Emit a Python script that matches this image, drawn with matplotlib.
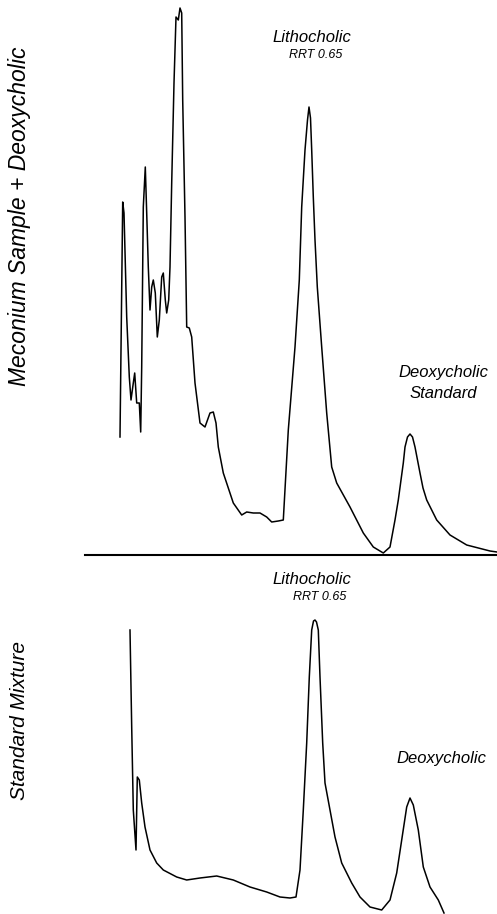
import numpy as np
import matplotlib.pyplot as plt

# Cromatograma superior: muestra de meconio + desoxicolico (posicion, respuesta)
t_muestra = [120, 122.7, 124, 126.7, 129.3, 131, 133.3, 134.7, 136.7, 139.3, 140.7, 141.7,
             143.3, 145.3, 146.7, 148.3, 150, 151.7, 153.3, 155.3, 157.3, 159.3, 161.7, 163.3,
             165.3, 166.7, 168.7, 170, 171.7, 174, 176, 178.3, 180, 181.7, 182.7, 185, 186.7,
             189.3, 191.7, 195, 200, 205, 210, 213.3, 216, 218.3, 223.3, 233.3, 241.7, 246.7,
             253.3, 260, 266.7, 271.7, 278.3, 283.3, 288.3, 295, 299.3, 301.7, 305, 307.5,
             309, 310.5, 311.7, 313.3, 315, 317.3, 321.7, 326.7, 331.7, 336.7, 350, 363.3,
             373.3, 383.3, 390, 395, 398.3, 401, 403.3, 405, 407.5, 410, 412.5, 415, 417.5,
             420, 423, 426.7, 436.7, 450, 466.7, 490, 497]
y_muestra = [118, 353, 342, 238, 178, 155, 172, 182, 152, 152, 123, 188,
             348, 388, 342, 288, 245, 268, 275, 262, 218, 235, 278, 282,
             255, 242, 255, 288, 372, 472, 538, 535, 547, 542, 455, 338, 228,
             227, 218, 172, 132, 128, 142, 143, 132, 108, 82, 52, 40, 43,
             42, 42, 38, 33, 34, 35, 125, 208, 275, 348, 405, 435,
             448, 437, 405, 358, 315, 268, 208, 142, 88, 72, 48, 22,
             8, 2, 8, 35, 55, 75, 92, 108, 118, 121, 118, 108, 95,
             82, 67, 55, 35, 20, 10, 4, 3]

# Cromatograma inferior: mezcla estandar
t_estandar = [130, 131.7, 133.3, 136, 137.3, 139.3, 141.7, 145, 150, 156.7, 163.3, 176.7,
              186.7, 200, 216.7, 233.3, 250, 266.7, 280, 290, 296, 300, 303.3, 306.7,
              309.3, 311.7, 313.5, 315, 316.5, 318.3, 320, 322.7, 325, 330, 335, 341.7,
              351.7, 360, 370, 381.7, 390, 396.7, 401.7, 406.7, 410, 413.3, 418.3, 423.3,
              430, 438.3, 444]
y_estandar = [284, 187, 104, 64, 137, 134, 111, 87, 64, 51, 44, 37,
              34, 36, 38, 34, 27, 22, 17, 16, 17, 44, 104, 171,
              237, 284, 293, 294, 292, 284, 237, 171, 131, 104, 77, 51,
              31, 17, 7, 4, 14, 41, 74, 107, 116, 109, 84, 47,
              27, 14, 1]

fig = plt.figure(figsize=(4.97, 9.14), dpi=100)

ax1 = fig.add_axes([0, 1 - 560 / 914, 1, 560 / 914])
ax1.plot(t_muestra, y_muestra, color='black', linewidth=1.1)
ax1.plot([85, 497], [0, 0], color='black', linewidth=1.5)
ax1.set_xlim(0, 497)
ax1.set_ylim(-5, 555)
ax1.axis('off')

ax2 = fig.add_axes([0, 0, 1, 314 / 914])
ax2.plot(t_estandar, y_estandar, color='black', linewidth=1.1)
ax2.set_xlim(0, 497)
ax2.set_ylim(0, 314)
ax2.axis('off')

fuente = 'Liberation Sans'
ax1.text(312, 518, "Lithocholic", ha='center', va='center', style='italic', fontsize=12, family=fuente)
ax1.text(316, 500, "RRT 0.65", ha='center', va='center', style='italic', fontsize=9, family=fuente)
ax1.text(443, 183, "Deoxycholic", ha='center', va='center', style='italic', fontsize=12, family=fuente)
ax1.text(443, 162, "Standard", ha='center', va='center', style='italic', fontsize=12, family=fuente)
ax1.text(20, 339, "Meconium Sample + Deoxycholic", ha='center', va='center', rotation=90,
         style='italic', fontsize=16.5, family=fuente)

ax2.text(312, 334, "Lithocholic", ha='center', va='center', style='italic', fontsize=12, family=fuente)
ax2.text(320, 317, "RRT 0.65", ha='center', va='center', style='italic', fontsize=9, family=fuente)
ax2.text(441, 156, "Deoxycholic", ha='center', va='center', style='italic', fontsize=12, family=fuente)
ax2.text(20, 194, "Standard Mixture", ha='center', va='center', rotation=90,
         style='italic', fontsize=15, family=fuente)
for t in ax2.texts:
    t.set_clip_on(False)

fig.savefig("out.png", dpi=100)
